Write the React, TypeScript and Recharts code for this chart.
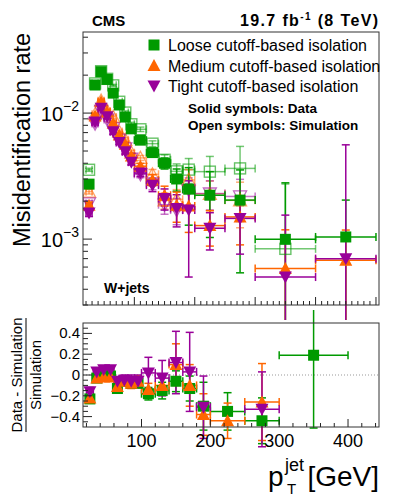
import { ComposedChart, Scatter, XAxis, YAxis, ErrorBar, ReferenceLine } from "recharts"

// pT(jet) bins [GeV]
const binEdges = [20, 30, 40, 50, 60, 70, 80, 90, 100, 120, 140, 160, 180, 200, 250, 300, 400, 500]

// misidentification rate, data (solid) and simulation (open)
const looseData = [0.00273, 0.0167, 0.0213, 0.0185, 0.0144, 0.0116, 0.0093, 0.0075, 0.0061, 0.00486, 0.004, 0.003, 0.00249, 0.00223, 0.00204, 0.000996, 0.00104]
const looseDataErr = [0.0001, 0.0003, 0.0004, 0.0004, 0.0003, 0.0003, 0.0003, 0.0003, 0.0003, 0.0003, 0.0004, 0.0006, 0.0012, 0.0012, 0.0015, 0.0018, 0.001]
const looseSim = [0.00355, 0.0172, 0.0215, 0.0187, 0.0166, 0.0123, 0.0101, 0.00815, 0.00744, 0.00572, 0.00426, 0.00345, 0.00356, 0.00343, 0.00364, 0.000837, null]
const looseSimErr = [0.0001, 0.0003, 0.0003, 0.0003, 0.0003, 0.0003, 0.0003, 0.0003, 0.0003, 0.0003, 0.0004, 0.0005, 0.0008, 0.0011, 0.0018, 0.0019, null]

const mediumData = [0.00186, 0.0095, 0.0123, 0.0102, 0.0083, 0.0067, 0.00565, 0.00456, 0.00379, 0.00294, 0.00223, 0.00186, 0.00183, 0.00128, 0.0015, 0.000585, 0.00068]
const mediumDataErr = [0.0001, 0.0003, 0.0003, 0.0003, 0.0003, 0.0002, 0.0002, 0.0002, 0.0002, 0.0003, 0.0004, 0.0005, 0.0007, 0.0004, 0.0006, 0.0006, 0.0005]
const mediumSim = [0.00238, 0.0098, 0.01255, 0.0104, 0.00933, 0.00713, 0.00614, 0.00485, 0.00441, 0.00327, 0.00203, 0.00207, 0.00295, 0.00229, 0.00203, null, null]
const mediumSimErr = [0.0001, 0.0003, 0.0003, 0.0003, 0.0003, 0.0002, 0.0002, 0.0002, 0.0002, 0.0003, 0.0003, 0.0004, 0.0006, 0.0006, 0.0008, null, null]

const tightData = [0.00161, 0.0085, 0.0109, 0.00935, 0.0071, 0.00585, 0.00493, 0.00408, 0.00334, 0.00268, 0.0021, 0.00175, 0.0017, 0.00122, 0.00146, 0.0005, 0.0007]
const tightDataErr = [0.0001, 0.0003, 0.0003, 0.0003, 0.0003, 0.0002, 0.0002, 0.0002, 0.0002, 0.0003, 0.0004, 0.0005, 0.0012, 0.0004, 0.0007, 0.00105, 0.0049]
const tightSim = [0.00192, 0.00825, 0.0104, 0.0089, 0.00755, 0.00616, 0.00524, 0.00434, 0.00327, 0.00276, 0.001875, 0.0017, 0.00246, 0.0023, 0.00218, null, null]
const tightSimErr = [0.0001, 0.0003, 0.0003, 0.0003, 0.0003, 0.0002, 0.0002, 0.0002, 0.0002, 0.0003, 0.0003, 0.0004, 0.0006, 0.0006, 0.0008, null, null]

// (Data - Simulation) / Simulation
const looseRatio = [-0.23, -0.03, -0.01, -0.01, -0.13, -0.06, -0.08, -0.08, -0.18, -0.15, -0.06, -0.13, -0.3, -0.35, -0.44, 0.19, null]
const looseRatioErr = [0.03, 0.03, 0.03, 0.03, 0.04, 0.04, 0.04, 0.04, 0.06, 0.08, 0.1, 0.12, 0.23, 0.18, 0.22, 0.7, null]
const mediumRatio = [-0.22, -0.03, -0.02, -0.02, -0.11, -0.06, -0.08, -0.06, -0.14, -0.1, 0.1, -0.1, -0.38, -0.44, -0.26, null, null]
const mediumRatioErr = [0.03, 0.03, 0.03, 0.03, 0.04, 0.04, 0.05, 0.05, 0.06, 0.08, 0.2, 0.2, 0.2, 0.17, 0.37, null, null]
const tightRatio = [-0.16, 0.03, 0.05, 0.05, -0.06, -0.05, -0.06, -0.06, 0.02, -0.03, 0.12, 0.03, -0.31, null, -0.33, null, null]
const tightRatioErr = [0.04, 0.03, 0.03, 0.03, 0.04, 0.05, 0.06, 0.06, 0.15, 0.17, 0.3, 0.38, 0.3, null, 0.36, null, null]

const legendLabels = ["Loose cutoff-based isolation", "Medium cutoff-based isolation", "Tight cutoff-based isolation"]
const xTickLabels = ["100", "200", "300", "400"]
const ratioTickLabels = ["0.4", "0.2", "0", "−0.2", "−0.4"]

const GREEN = "#009a00"
const ORANGE = "#ff6600"
const PURPLE = "#990099"
const INK = "#222"
const FONT = "'Liberation Sans', Arial, Helvetica, sans-serif"

const rateTicks = [3, 4, 5, 6, 7, 8, 9].map((m) => m * 1e-4)
  .concat([1, 2, 3, 4, 5, 6, 7, 8, 9].map((m) => m * 1e-3))
  .concat([1, 2, 3, 4].map((m) => m * 1e-2))
const topXTicks = Array.from({ length: 49 }, (_, i) => 20 + i * 10)
const bottomXTicks = Array.from({ length: 22 }, (_, i) => 20 + i * 20)
const ratioTicks = Array.from({ length: 19 }, (_, i) => Math.round((-0.45 + i * 0.05) * 100) / 100)

type Pt = { x: number; y: number; xe: number; ye: number | number[] }

function points(vals: (number | null)[], errs: (number | null)[], log: boolean): Pt[] {
  const out: Pt[] = []
  vals.forEach((v, i) => {
    if (v == null) return
    const e = errs[i] ?? 0
    out.push({
      x: (binEdges[i] + binEdges[i + 1]) / 2,
      xe: (binEdges[i + 1] - binEdges[i]) / 2,
      y: v,
      ye: log ? [Math.min(e, v * 0.98), e] : e,
    })
  })
  return out
}

const square = (color: string, open: boolean) => (p: any) => (
  <rect
    x={p.cx - 5.5}
    y={p.cy - 5.5}
    width={11}
    height={11}
    fill={open ? "none" : color}
    stroke={color}
    strokeOpacity={open ? 0.6 : 1}
    strokeWidth={open ? 1.4 : 0}
  />
)

const triangle = (color: string, open: boolean, down: boolean) => (p: any) => {
  const s = down ? -1 : 1
  const d = `M${p.cx},${p.cy - 6.5 * s} L${p.cx - 6.5},${p.cy + 5.5 * s} L${p.cx + 6.5},${p.cy + 5.5 * s} Z`
  return (
    <path
      d={d}
      fill={open ? "none" : color}
      stroke={color}
      strokeOpacity={open ? 0.6 : 1}
      strokeWidth={open ? 1.3 : 0}
    />
  )
}

const series = [
  { color: GREEN, shape: (o: boolean) => square(GREEN, o) },
  { color: ORANGE, shape: (o: boolean) => triangle(ORANGE, o, false) },
  { color: PURPLE, shape: (o: boolean) => triangle(PURPLE, o, true) },
]

const simSets = [
  points(looseSim, looseSimErr, true),
  points(mediumSim, mediumSimErr, true),
  points(tightSim, tightSimErr, true),
]
const dataSets = [
  points(looseData, looseDataErr, true),
  points(mediumData, mediumDataErr, true),
  points(tightData, tightDataErr, true),
]
const ratioSets = [
  points(looseRatio, looseRatioErr, false),
  points(mediumRatio, mediumRatioErr, false),
  points(tightRatio, tightRatioErr, false),
]

function RateTick(props: any) {
  const { y, payload } = props
  const x = 83
  const exp = Math.log10(payload.value)
  const major = Math.abs(exp - Math.round(exp)) < 1e-6
  return (
    <g>
      <line x1={x} x2={x + (major ? 9 : 5)} y1={y} y2={y} stroke={INK} />
      {major && (
        <text x={x - 4} y={y + 8} textAnchor="end" fontSize={20} fontFamily={FONT} fill="#000">
          10
          <tspan dy={-10} fontSize={14}>
            {"−" + Math.abs(Math.round(exp))}
          </tspan>
        </text>
      )}
    </g>
  )
}

function TopXTick(props: any) {
  const { x, payload } = props
  const y = 305
  const major = payload.value % 100 === 0
  return <line x1={x} x2={x} y1={y} y2={y - (major ? 8 : 4)} stroke={INK} />
}

function BottomXTick(props: any) {
  const { x, payload } = props
  const y = 117
  const idx = [100, 200, 300, 400].indexOf(payload.value)
  return (
    <g>
      <line x1={x} x2={x} y1={y} y2={y - (idx >= 0 ? 8 : 4)} stroke={INK} />
      {idx >= 0 && (
        <text x={x} y={y + 20} textAnchor="middle" fontSize={18} fontFamily={FONT} fill="#000">
          {xTickLabels[idx]}
        </text>
      )}
    </g>
  )
}

function RatioTick(props: any) {
  const { y, payload } = props
  const x = 83
  const idx = [0.4, 0.2, 0, -0.2, -0.4].indexOf(payload.value)
  return (
    <g>
      <line x1={x} x2={x + (idx >= 0 ? 9 : 5)} y1={y} y2={y} stroke={INK} />
      {idx >= 0 && (
        <text x={x - 3} y={y + 5} textAnchor="end" fontSize={15} fontFamily={FONT} fill="#000">
          {ratioTickLabels[idx]}
        </text>
      )}
    </g>
  )
}

export default function App() {
  return (
    <div style={{ position: "absolute", left: 0, top: 0, width: 399, height: 499, background: "#fff" }}>
      <div style={{ position: "absolute", left: 0, top: 0 }}>
        <ComposedChart width={399} height={320} margin={{ top: 32, right: 20, bottom: 0, left: 0 }}>
          <XAxis
            type="number"
            dataKey="x"
            domain={[15, 505]}
            ticks={topXTicks}
            interval={0}
            height={15}
            tickSize={0}
            tickMargin={0}
            axisLine={false}
            tickLine={false}
            tick={<TopXTick />}
            allowDataOverflow
          />
          <YAxis
            type="number"
            dataKey="y"
            scale="log"
            domain={[0.0003, 0.044]}
            ticks={rateTicks}
            interval={0}
            width={83}
            tickSize={0}
            tickMargin={0}
            axisLine={false}
            tickLine={false}
            tick={<RateTick />}
            allowDataOverflow
          />
          {simSets.map((d, i) => (
            <Scatter key={"sim" + i} data={d} shape={series[i].shape(true)} isAnimationActive={false}>
              <ErrorBar dataKey="xe" direction="x" width={4} stroke={series[i].color} strokeOpacity={0.55} strokeWidth={1.5} isAnimationActive={false} />
              <ErrorBar dataKey="ye" direction="y" width={4} stroke={series[i].color} strokeOpacity={0.55} strokeWidth={1.5} isAnimationActive={false} />
            </Scatter>
          ))}
          {dataSets.map((d, i) => (
            <Scatter key={"data" + i} data={d} shape={series[i].shape(false)} isAnimationActive={false}>
              <ErrorBar dataKey="xe" direction="x" width={4} stroke={series[i].color} strokeWidth={1.5} isAnimationActive={false} />
              <ErrorBar dataKey="ye" direction="y" width={4} stroke={series[i].color} strokeWidth={1.5} isAnimationActive={false} />
            </Scatter>
          ))}
        </ComposedChart>
      </div>
      <div style={{ position: "absolute", left: 0, top: 310 }}>
        <ComposedChart width={399} height={189} margin={{ top: 13, right: 20, bottom: 0, left: 0 }}>
          <XAxis
            type="number"
            dataKey="x"
            domain={[15, 445]}
            ticks={bottomXTicks}
            interval={0}
            height={72}
            tickSize={0}
            tickMargin={0}
            axisLine={false}
            tickLine={false}
            tick={<BottomXTick />}
            allowDataOverflow
          />
          <YAxis
            type="number"
            dataKey="y"
            domain={[-0.5, 0.5]}
            ticks={ratioTicks}
            interval={0}
            width={83}
            tickSize={0}
            tickMargin={0}
            axisLine={false}
            tickLine={false}
            tick={<RatioTick />}
            allowDataOverflow
          />
          <ReferenceLine y={0} stroke="#999" strokeDasharray="1 2" />
          {ratioSets.map((d, i) => (
            <Scatter key={"ratio" + i} data={d} shape={series[i].shape(false)} isAnimationActive={false}>
              <ErrorBar dataKey="xe" direction="x" width={4} stroke={series[i].color} strokeWidth={1.5} isAnimationActive={false} />
              <ErrorBar dataKey="ye" direction="y" width={4} stroke={series[i].color} strokeWidth={1.5} isAnimationActive={false} />
            </Scatter>
          ))}
        </ComposedChart>
      </div>
      <svg width={399} height={499} style={{ position: "absolute", left: 0, top: 0, pointerEvents: "none" }} fontFamily={FONT}>
        <rect x={83} y={32} width={296} height={273} fill="none" stroke="#333" />
        <rect x={83} y={323} width={296} height={104} fill="none" stroke="#333" />
        <text x={92} y={26} fontSize={15} fontWeight="bold">CMS</text>
        <text x={240} y={26} fontSize={16} fontWeight="bold" textLength={138} lengthAdjust="spacing">
          19.7 fb<tspan dy={-6} fontSize={10}>-1</tspan>
          <tspan dy={6}> (8 TeV)</tspan>
        </text>
        {legendLabels.map((l, i) => (
          <g key={l}>
            {series[i].shape(false)({ cx: 154, cy: 45 + i * 20.5 })}
            <text x={168} y={51 + i * 20.5} fontSize={16}>{l}</text>
          </g>
        ))}
        <text x={188} y={113} fontSize={13.5} fontWeight="bold">Solid symbols: Data</text>
        <text x={188} y={130} fontSize={13.5} fontWeight="bold">Open symbols: Simulation</text>
        <text x={104} y={293} fontSize={14} fontWeight="bold">W+jets</text>
        <text x={30} y={140} fontSize={23.5} textAnchor="middle" transform="rotate(-90 30 140)">
          Misidentification rate
        </text>
        <text x={22} y={375} fontSize={15} textAnchor="middle" transform="rotate(-90 22 375)">
          Data - Simulation
        </text>
        <line x1={26} x2={26} y1={318} y2={432} stroke="#000" />
        <text x={41} y={375} fontSize={15} textAnchor="middle" transform="rotate(-90 41 375)">
          Simulation
        </text>
        <text x={268} y={486} fontSize={28}>p</text>
        <text x={285} y={471} fontSize={18}>jet</text>
        <text x={287} y={494} fontSize={15}>T</text>
        <text x={379} y={486} fontSize={28} textAnchor="end">[GeV]</text>
      </svg>
    </div>
  )
}
